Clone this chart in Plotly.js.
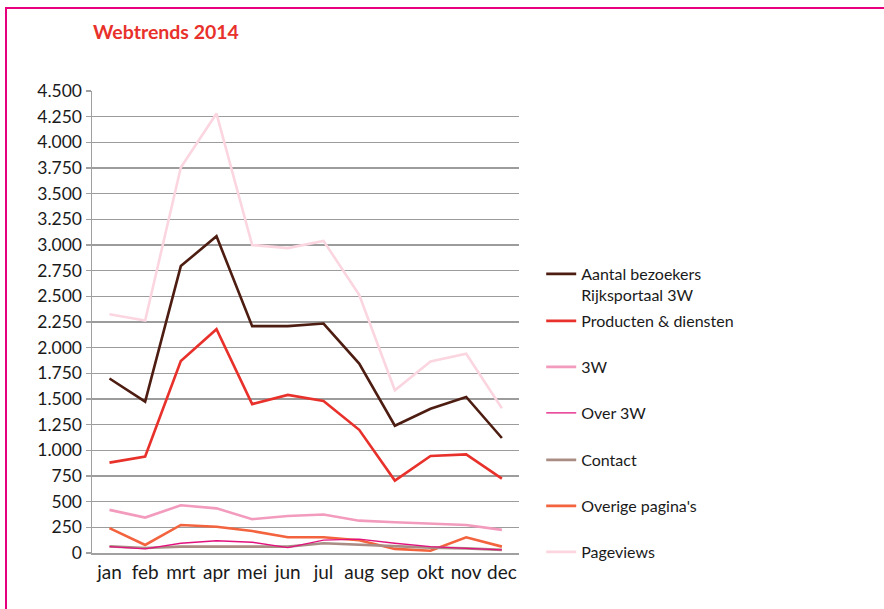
<!DOCTYPE html>
<html>
<head>
<meta charset="utf-8">
<script src="https://cdn.plot.ly/plotly-3.0.1.min.js"></script>
<style>
  html, body { margin: 0; padding: 0; background: #fff; }
  #wrap { position: relative; width: 884px; height: 609px; overflow: hidden; }
  #chart { position: absolute; left: 0; top: 0; width: 884px; height: 609px; }
  #frame { position: absolute; left: 5px; top: 7px; width: 900px; height: 620px;
           border-top: 2px solid #e6007e; border-left: 2px solid #e6007e; pointer-events: none; }
</style>
</head>
<body>
<div id="wrap">
  <div id="chart"></div>
  <div id="frame"></div>
</div>
<script>
const months = ["jan","feb","mrt","apr","mei","jun","jul","aug","sep","okt","nov","dec"];

const aantalBezoekers = [1700, 1475, 2795, 3085, 2210, 2210, 2235, 1845, 1240, 1405, 1520, 1120];
const productenDiensten = [880, 940, 1870, 2180, 1450, 1540, 1480, 1200, 705, 945, 960, 725];
const drieW = [420, 345, 465, 435, 330, 360, 375, 315, 300, 285, 272, 225];
const over3W = [62, 40, 95, 120, 105, 52, 125, 135, 95, 62, 45, 30];
const contact = [65, 48, 62, 62, 62, 62, 95, 80, 68, 52, 45, 30];
const overigePaginas = [243, 78, 273, 256, 214, 153, 153, 125, 40, 22, 153, 62];
const pageviews = [2325, 2265, 3755, 4280, 3000, 2970, 3040, 2515, 1585, 1865, 1940, 1410];

const seriesNames = ["Aantal bezoekers<br>Rijksportaal 3W", "Producten &amp; diensten", "3W", "Over 3W", "Contact", "Overige pagina's", "Pageviews"];
const seriesData = [aantalBezoekers, productenDiensten, drieW, over3W, contact, overigePaginas, pageviews];
const seriesColors = ["#4e1d12", "#e8312b", "#f29bbd", "#e2127d", "#a98d84", "#f2633e", "#fbd6e0"];
const seriesWidths = [2.6, 2.6, 2.6, 1.4, 2.6, 2.6, 2.6];

// each series gets its own legend box so the spacing can match the reference
const legendIds = ["legend", "legend2", "legend3", "legend4", "legend5", "legend6", "legend7"];
const legendTops = [0.6407, 0.5390, 0.4394, 0.3398, 0.2381, 0.1385, 0.0390];

// draw order: pageviews back, others on top
const drawOrder = [6, 2, 5, 4, 3, 1, 0];
const traces = [];
for (let k = 0; k < seriesNames.length; k++) {
  traces.push({
    type: "scatter",
    mode: "lines",
    x: months,
    y: seriesData[k],
    name: seriesNames[k],
    legend: legendIds[k],
    line: { color: seriesColors[k], width: seriesWidths[k] },
    hoverinfo: "skip"
  });
}
const ordered = drawOrder.map(i => traces[i]);

const layout = {
  width: 884,
  height: 609,
  margin: { l: 92, r: 365, t: 91, b: 56, autoexpand: false },
  paper_bgcolor: "#ffffff",
  plot_bgcolor: "#ffffff",
  separators: ",.",
  font: { family: "Lato, 'Open Sans', sans-serif", color: "#1a1a1a" },
  title: {
    text: "<b>Webtrends 2014</b>",
    xref: "container", x: 93 / 884, xanchor: "left",
    yref: "container", y: 1 - 32 / 609, yanchor: "middle",
    font: { size: 19.5, color: "#e8312b", family: "Lato, 'Open Sans', sans-serif" }
  },
  showlegend: true,
  xaxis: {
    type: "category",
    range: [-0.49, 11.48],
    showgrid: false,
    zeroline: false,
    showline: true,
    linecolor: "#a0a0a0",
    linewidth: 1.5,
    ticks: "",
    ticklabelstandoff: 2,
    tickfont: { size: 19, color: "#1a1a1a" },
    fixedrange: true
  },
  yaxis: {
    range: [0, 4500],
    dtick: 250,
    tick0: 0,
    tickformat: ",d",
    showgrid: true,
    gridcolor: "#9c9c9c",
    gridwidth: 1.5,
    zeroline: false,
    showline: true,
    linecolor: "#a0a0a0",
    linewidth: 1.5,
    ticks: "outside",
    ticklen: 5,
    tickcolor: "#a0a0a0",
    tickwidth: 1.5,
    tickfont: { size: 17.5, color: "#1a1a1a" },
    fixedrange: true
  }
};

for (let k = 0; k < legendIds.length; k++) {
  layout[legendIds[k]] = {
    x: 1.052, xanchor: "left",
    y: legendTops[k], yanchor: "top",
    valign: "top",
    itemwidth: 30,
    font: { size: 16, color: "#1a1a1a" },
    bgcolor: "rgba(0,0,0,0)"
  };
}

Plotly.newPlot("chart", ordered, layout, { displayModeBar: false, staticPlot: true });
</script>
</body>
</html>
